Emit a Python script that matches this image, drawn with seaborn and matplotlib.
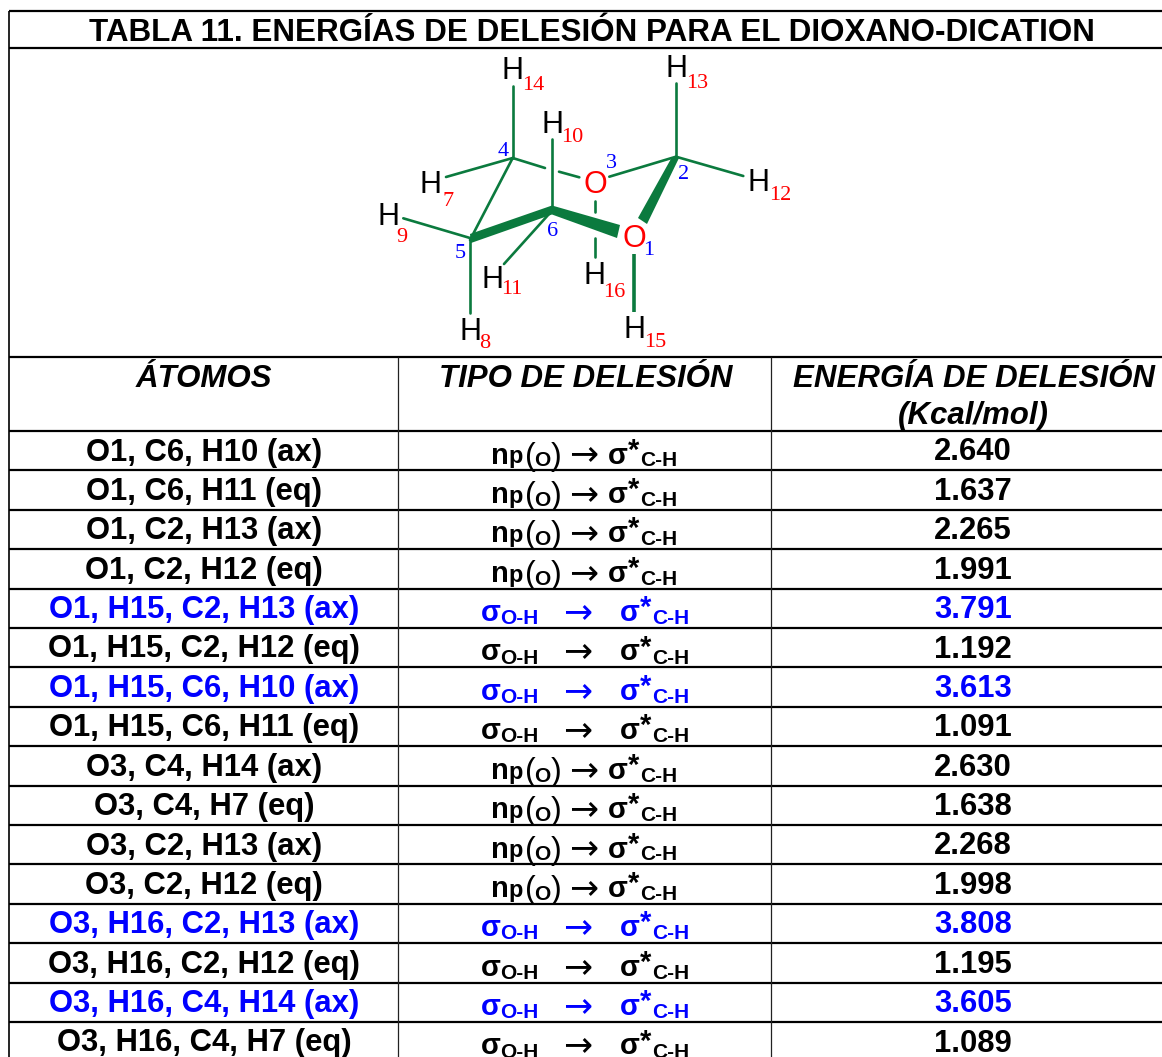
import pandas as pd
import matplotlib
matplotlib.use("Agg")
import matplotlib.pyplot as plt
import seaborn as sns

# ------- Table data -------
title = "TABLA 11. ENERGÍAS DE DELESIÓN PARA EL DIOXANO-DICATION"
headers = ["ÁTOMOS", "TIPO DE DELESIÓN", "ENERGÍA DE DELESIÓN", "(Kcal/mol)"]
atoms = [
    "O1, C6, H10 (ax)", "O1, C6, H11 (eq)", "O1, C2, H13 (ax)", "O1, C2, H12 (eq)",
    "O1, H15, C2, H13 (ax)", "O1, H15, C2, H12 (eq)", "O1, H15, C6, H10 (ax)", "O1, H15, C6, H11 (eq)",
    "O3, C4, H14 (ax)", "O3, C4, H7 (eq)", "O3, C2, H13 (ax)", "O3, C2, H12 (eq)",
    "O3, H16, C2, H13 (ax)", "O3, H16, C2, H12 (eq)", "O3, H16, C4, H14 (ax)", "O3, H16, C4, H7 (eq)",
]
kinds = ["n", "n", "n", "n", "s", "s", "s", "s", "n", "n", "n", "n", "s", "s", "s", "s"]
energies = ["2.640", "1.637", "2.265", "1.991", "3.791", "1.192", "3.613", "1.091",
            "2.630", "1.638", "2.268", "1.998", "3.808", "1.195", "3.605", "1.089"]
highlighted = [4, 6, 12, 14]

# ------- Molecule drawing (pixels) -------
bonds = [
    ((512.7, 86), (512.7, 158)), ((676, 83), (676, 157)), ((446, 177), (512.7, 158)),
    ((512.7, 158), (545, 168)), ((559, 171.7), (579.3, 177.3)), ((609.3, 176.7), (676, 156.7)),
    ((676, 156.7), (743.3, 176)), ((512.7, 158), (470, 240)), ((403.3, 218.3), (470, 238)),
    ((470, 240), (470, 313)), ((551.7, 139.3), (551.7, 209)), ((551.7, 211), (504, 264)),
    ((595, 200.7), (595, 212.3)), ((595, 238.3), (595, 257.3)),
]
wedges = [
    [(672, 157), (679, 158), (647, 224), (638, 218)],
    [(552, 205.5), (620, 225), (617, 238), (552, 214.5)],
    [(470, 234), (552, 205.5), (552, 214.5), (471, 243)],
]
# H centre x, H baseline, subscript left x, subscript baseline, subscript
h_labels = [
    (513, 79, 522, 90, "14"), (677, 77, 686, 88, "13"), (552, 133, 561, 142, "10"),
    (431, 193, 443, 206, "7"), (389, 225, 396, 242, "9"), (759, 191, 769, 200, "12"),
    (493, 288, 501, 294, "11"), (595, 284, 603, 297, "16"), (471, 340, 479, 348, "8"),
    (635, 338, 644, 347, "15"),
]
num_labels = [(503, 156, "4"), (611, 168, "3"), (684, 179, "2"), (553, 236, "6"), (460, 258, "5"), (649, 255, "1")]

GREEN = "#0b7a3e"
BLUE = "#0000ff"
RED = "#ff0000"

sns.set_theme(style="white")
plt.rcParams["font.family"] = ["Liberation Sans", "DejaVu Sans"]

fig = plt.figure(figsize=(11.62, 10.57), dpi=100)
ax = fig.add_axes([0, 0, 1, 1])
ax.set_xlim(0, 1162)
ax.set_ylim(1057, 0)
ax.axis("off")

# ------- Grid -------
row_lines = [431 + 39.4 * i for i in range(16)]
ax.hlines([11, 48, 357] + row_lines, 9, 1162, color="black", lw=1.6)
ax.vlines(9, 11, 1057, color="black", lw=1.2)
ax.vlines([398, 771], 357, 1057, color="#222222", lw=0.9)

# ------- Title and header -------
ax.text(592, 41, title, ha="center", va="baseline", fontsize=22.6, fontweight="bold", color="black")
head = dict(ha="center", va="baseline", fontsize=22.5, fontweight="bold", fontstyle="italic", color="black")
ax.text(204, 387, headers[0], **head)
ax.text(586, 387, headers[1], **head)
ax.text(974, 387, headers[2], **head)
ax.text(973, 424, headers[3], **head)


def arrow_cell(y, kind, color):
    # each piece of the formula sits at its own x
    bold = dict(va="baseline", color=color, fontweight="bold")
    if kind == "n":
        ax.text(491, y, "n", fontsize=21, **bold)
        ax.text(508, y, "p", fontsize=17, **bold)
        ax.text(525, y + 1, "(", fontsize=23, va="baseline", color=color)
        ax.text(534, y + 3, "O", fontsize=15, **bold)
        ax.text(551, y + 1, ")", fontsize=23, va="baseline", color=color)
        ax.text(569, y + 1, "→", fontsize=25, va="baseline", color=color, family="DejaVu Sans")
        ax.text(608, y, "σ", fontsize=21, **bold)
        ax.text(628, y - 5, "*", fontsize=21, **bold)
        ax.text(640, y + 3, "C-H", fontsize=15, **bold)
    else:
        ax.text(481, y, "σ", fontsize=21, **bold)
        ax.text(500, y + 3, "O-H", fontsize=15, **bold)
        ax.text(563, y + 1, "→", fontsize=25, va="baseline", color=color, family="DejaVu Sans")
        ax.text(620, y, "σ", fontsize=21, **bold)
        ax.text(640, y - 5, "*", fontsize=21, **bold)
        ax.text(652, y + 3, "C-H", fontsize=15, **bold)


# ------- Rows -------
for i in range(len(atoms)):
    color = BLUE if i in highlighted else "black"
    base = row_lines[i] + 29.5
    cell = dict(ha="center", va="baseline", fontsize=22.3, fontweight="bold", color=color)
    ax.text(204, base, atoms[i], **cell)
    ax.text(973, base, energies[i], **cell)
    arrow_cell(base + 3, kinds[i], color)

# ------- Molecule -------
bond_df = pd.DataFrame(
    [{"bond": i, "x": p[0], "y": p[1]} for i, b in enumerate(bonds) for p in b]
)
sns.lineplot(data=bond_df, x="x", y="y", units="bond", estimator=None, sort=False,
             color=GREEN, lw=1.9, ax=ax, legend=False)
ax.plot([634, 634], [254, 311.7], color=GREEN, lw=2.6, solid_capstyle="butt")
for w in wedges:
    ax.fill(*zip(*w), color=GREEN, lw=0)
ax.axis("off")
ax.set_xlim(0, 1162)
ax.set_ylim(1057, 0)

for hx, hy, sx, sy, sub in h_labels:
    ax.text(hx, hy, "H", ha="center", va="baseline", fontsize=22, color="black")
    ax.text(sx, sy, sub, ha="left", va="baseline", fontsize=16, color=RED, family="Liberation Serif")
ax.text(595, 193, "O", ha="center", va="baseline", fontsize=22, color=RED)
ax.text(634, 247, "O", ha="center", va="baseline", fontsize=22, color=RED)
for x, y, s in num_labels:
    ax.text(x, y, s, ha="center", va="baseline", fontsize=16, color=BLUE, family="Liberation Serif")

fig.savefig("out.png", dpi=100, facecolor="white")
